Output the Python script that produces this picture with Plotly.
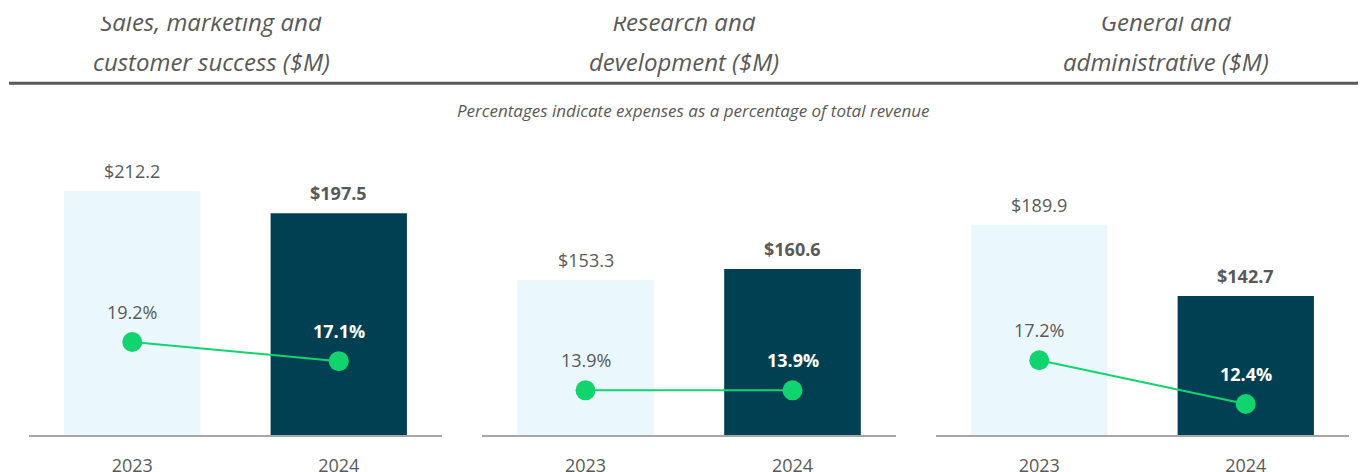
import plotly.graph_objects as go

# ---- data ----
years = ["2023", "2024"]
panel_titles = [
    ("Sales, marketing and", "customer success ($M)"),
    ("Research and", "development ($M)"),
    ("General and", "administrative ($M)"),
]
sales_marketing = [212.2, 197.5]
research_dev = [153.3, 160.6]
general_admin = [189.9, 142.7]
sales_marketing_pct = [19.2, 17.1]
research_dev_pct = [13.9, 13.9]
general_admin_pct = [17.2, 12.4]
subtitle = "Percentages indicate expenses as a percentage of total revenue"

values = [sales_marketing, research_dev, general_admin]
pcts = [sales_marketing_pct, research_dev_pct, general_admin_pct]

# ---- style ----
OFF = 8                      # page body margin
W, H = 1366 - OFF, 472 - OFF
FONT = "Open Sans"
GRAY = "#595959"
LIGHT = "#EAF8FE"
DARK = "#013F52"
GREEN = "#12D46F"
AXIS = "#A6A6A6"

x_domains_px = [(29, 442), (482, 896), (936, 1349)]
title_centers_px = [211, 684, 1166]
y_bottom_px, y_top_px = 435, 100
bar_range = [50.7, 50.7 + (y_bottom_px - y_top_px) / 1.511]
pct_range = [9.0, 9.0 + (y_bottom_px - y_top_px) / 9.12]


def px_x(v):
    return (v - OFF) / W


def px_y(v):
    return (H - (v - OFF)) / H


fig = go.Figure()
annotations = []
layout_axes = {}

for i in range(3):
    xa = "x" if i == 0 else f"x{i+1}"
    ya = "y" if i == 0 else f"y{i+1}"
    ya2 = f"y{i+4}"
    fig.add_trace(go.Bar(
        x=years, y=values[i], xaxis=xa, yaxis=ya,
        marker=dict(color=[LIGHT, DARK], line=dict(width=0)),
        width=0.66, showlegend=False, hoverinfo="skip",
    ))
    fig.add_trace(go.Scatter(
        x=years, y=pcts[i], xaxis=xa, yaxis=ya2, mode="lines+markers",
        line=dict(color=GREEN, width=2),
        marker=dict(color=GREEN, size=20),
        showlegend=False, hoverinfo="skip", cliponaxis=False,
    ))
    xkey = "xaxis" if i == 0 else f"xaxis{i+1}"
    ykey = "yaxis" if i == 0 else f"yaxis{i+1}"
    y2key = f"yaxis{i+4}"
    d0, d1 = x_domains_px[i]
    layout_axes[xkey] = dict(
        domain=[px_x(d0), px_x(d1)], anchor=ya, type="category",
        range=[-0.5, 1.5], showline=True, linecolor=AXIS, linewidth=2,
        showgrid=False, zeroline=False, ticks="",
        tickfont=dict(family=FONT, size=18, color=GRAY),
        ticklabelstandoff=13, automargin=False,
    )
    layout_axes[ykey] = dict(
        domain=[px_y(y_bottom_px), px_y(y_top_px)], anchor=xa,
        range=bar_range, visible=False, showgrid=False, zeroline=False,
    )
    layout_axes[y2key] = dict(
        domain=[px_y(y_bottom_px), px_y(y_top_px)], anchor=xa, overlaying=ya,
        range=pct_range, visible=False, showgrid=False, zeroline=False,
    )
    for j in range(len(years)):
        bold = j == 1
        v = values[i][j]
        p = pcts[i][j]
        annotations.append(dict(
            x=j, y=v, xref=xa, yref=ya,
            text=(f"<b>${v:.1f}</b>" if bold else f"${v:.1f}"),
            showarrow=False, yanchor="middle", yshift=20,
            font=dict(family=FONT, size=18, color=GRAY),
        ))
        annotations.append(dict(
            x=j, y=p, xref=xa, yref=ya2,
            text=(f"<b>{p:.1f}%</b>" if bold else f"{p:.1f}%"),
            showarrow=False, yanchor="middle", yshift=30,
            font=dict(family=FONT, size=18, color="white" if bold else GRAY),
        ))
    # second title line
    annotations.append(dict(
        x=px_x(title_centers_px[i]), y=px_y(61), xref="paper", yref="paper",
        text=f"<i>{panel_titles[i][1]}</i>", showarrow=False,
        xanchor="center", yanchor="middle",
        font=dict(family=FONT, size=24, color=GRAY),
    ))

# first title lines: drawn in a helper strip whose top edge trims them
fig.add_trace(go.Scatter(
    x=title_centers_px, y=[25, 25, 25], xaxis="x7", yaxis="y7",
    mode="text", text=[f"<i>{t[0]}</i>" for t in panel_titles],
    textposition="middle center",
    textfont=dict(family=FONT, size=24, color=GRAY),
    showlegend=False, hoverinfo="skip", cliponaxis=True,
))
layout_axes["xaxis7"] = dict(domain=[0, 1], range=[OFF, OFF + W], visible=False,
                             anchor="y7", fixedrange=True)
layout_axes["yaxis7"] = dict(domain=[px_y(48), px_y(16.7)], range=[48, 16.7],
                             visible=False, anchor="x7", fixedrange=True)

annotations.append(dict(
    x=px_x(693), y=px_y(110), xref="paper", yref="paper",
    text=f"<i>{subtitle}</i>", showarrow=False, xanchor="center", yanchor="middle",
    font=dict(family=FONT, size=17, color=GRAY),
))

fig.update_layout(
    width=W, height=H,
    margin=dict(l=0, r=0, t=0, b=0),
    paper_bgcolor="white", plot_bgcolor="white",
    barmode="group", bargap=0.34,
    annotations=annotations,
    shapes=[dict(type="line", xref="paper", yref="paper",
                 x0=px_x(9), x1=1, y0=px_y(83.3), y1=px_y(83.3),
                 line=dict(color=GRAY, width=3))],
    **layout_axes,
)

fig.write_html("out.html")
